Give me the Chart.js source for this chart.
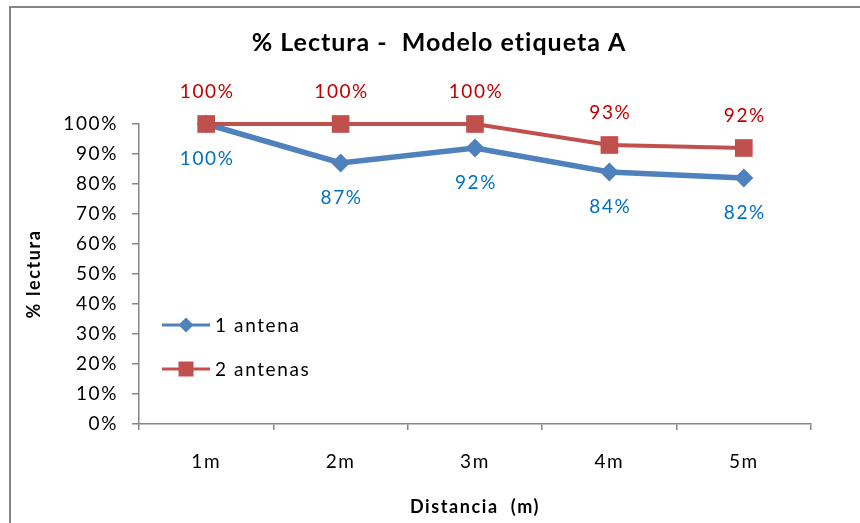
<!DOCTYPE html>
<html>
<head>
<meta charset="utf-8">
<title>% Lectura - Modelo etiqueta A</title>
<script src="https://cdn.jsdelivr.net/npm/chart.js@4.4.1/dist/chart.umd.min.js"></script>
<style>
  html, body { margin: 0; padding: 0; background: #fff; }
  #box { width: 860px; height: 523px; }
</style>
</head>
<body>
<div id="box"><canvas id="chart-lectura" width="860" height="523"></canvas></div>
<script>
const DISTANCIAS   = ["1m", "2m", "3m", "4m", "5m"];
const UNA_ANTENA   = [100, 87, 92, 84, 82];
const DOS_ANTENAS  = [100, 100, 100, 93, 92];
const SERIES       = ["1 antena", "2 antenas"];
const TITULO       = "% Lectura -  Modelo etiqueta A";

const FONT      = "Lato";
const AXIS_GRAY = "#868686";
const AZUL      = "#4F81BD";
const ROJO      = "#C0504D";
const LBL_AZUL  = "#0070C0";
const LBL_ROJO  = "#C00000";

// wide text spacing, like the office-style labels
const spacing = {
  id: "spacing",
  beforeLayout(chart) { chart.ctx.letterSpacing = "1.6px"; },
  beforeDraw(chart)   { chart.ctx.letterSpacing = "1.6px"; },
};

// outer frame + main title
const marco = {
  id: "marco",
  beforeDraw(chart) {
    const ctx = chart.ctx;
    ctx.save();
    ctx.fillStyle = "#fff";
    ctx.fillRect(0, 0, chart.width, chart.height);
    ctx.strokeStyle = AXIS_GRAY;
    ctx.lineWidth = 2;
    ctx.strokeRect(10, 7, chart.width + 20, chart.height + 20);
    ctx.restore();
  },
  afterDraw(chart) {
    const ctx = chart.ctx;
    ctx.save();
    ctx.letterSpacing = "1px";
    ctx.font = `bold 25px ${FONT}`;
    ctx.fillStyle = "#000";
    ctx.textAlign = "center";
    ctx.textBaseline = "middle";
    ctx.fillText(TITULO, 439, 43);
    ctx.restore();
  },
};

// value labels: red above its points, blue below
const etiquetas = {
  id: "etiquetas",
  afterDatasetsDraw(chart) {
    const ctx = chart.ctx;
    ctx.save();
    ctx.font = `19px ${FONT}`;
    ctx.textAlign = "center";
    ctx.textBaseline = "middle";
    chart.data.datasets.forEach((ds, i) => {
      const meta = chart.getDatasetMeta(i);
      meta.data.forEach((pt, j) => {
        ctx.fillStyle = ds.labelColor;
        ctx.fillText(ds.data[j] + "%", pt.x + 1, pt.y + ds.labelOffset);
      });
    });
    ctx.restore();
  },
};

// legend sitting inside the plot area
const leyenda = {
  id: "leyenda",
  afterDraw(chart) {
    const ctx = chart.ctx;
    const area = chart.chartArea;
    const x0 = area.left + 23;
    chart.data.datasets.forEach((ds, i) => {
      const y = area.top + 201 + i * 44;
      ctx.save();
      ctx.strokeStyle = ds.borderColor;
      ctx.lineWidth = 3;
      ctx.beginPath();
      ctx.moveTo(x0, y);
      ctx.lineTo(x0 + 48, y);
      ctx.stroke();
      ctx.fillStyle = ds.backgroundColor;
      const cx = x0 + 24;
      if (ds.pointStyle === "rectRot") {
        ctx.beginPath();
        ctx.moveTo(cx, y - 7.5);
        ctx.lineTo(cx + 7.5, y);
        ctx.lineTo(cx, y + 7.5);
        ctx.lineTo(cx - 7.5, y);
        ctx.closePath();
        ctx.fill();
      } else {
        ctx.fillRect(cx - 7.5, y - 7.5, 15, 15);
      }
      ctx.font = `19px ${FONT}`;
      ctx.fillStyle = "#000";
      ctx.textAlign = "left";
      ctx.textBaseline = "middle";
      ctx.fillText(ds.label, x0 + 53, y + 1);
      ctx.restore();
    });
  },
};

new Chart(document.getElementById("chart-lectura"), {
  type: "line",
  data: {
    labels: DISTANCIAS,
    datasets: [
      {
        label: SERIES[0],
        data: UNA_ANTENA,
        order: 1,
        clip: false,
        borderColor: AZUL,
        backgroundColor: AZUL,
        borderWidth: 5.5,
        pointStyle: "rectRot",
        pointRadius: 9.5,
        pointBorderWidth: 0,
        tension: 0,
        labelColor: LBL_AZUL,
        labelOffset: 35,
      },
      {
        label: SERIES[1],
        data: DOS_ANTENAS,
        order: 0,
        clip: false,
        borderColor: ROJO,
        backgroundColor: ROJO,
        borderWidth: 4,
        pointStyle: "rect",
        pointRadius: 12.5,
        pointBorderWidth: 0,
        tension: 0,
        labelColor: LBL_ROJO,
        labelOffset: -32,
      },
    ],
  },
  options: {
    responsive: false,
    animation: false,
    devicePixelRatio: 1,
    layout: { padding: { top: 124, left: 10, right: 49, bottom: 0 } },
    plugins: {
      legend: { display: false },
      title: { display: false },
      tooltip: { enabled: false },
    },
    scales: {
      x: {
        offset: true,
        grid: { display: true, offset: true, drawOnChartArea: false, tickLength: 6, color: AXIS_GRAY, lineWidth: 1.5 },
        border: { display: true, color: AXIS_GRAY, width: 1.5 },
        ticks: { color: "#000", font: { family: FONT, size: 19 }, padding: 20, maxRotation: 0 },
        title: { display: true, text: "Distancia  (m)", color: "#000", font: { family: FONT, size: 18, weight: "bold" }, padding: { top: 0, bottom: 5 } },
        afterFit(scale) { scale.height = 99; },
      },
      y: {
        min: 0,
        max: 100,
        grid: { display: true, drawOnChartArea: false, tickLength: 7, color: AXIS_GRAY, lineWidth: 1.5 },
        border: { display: true, color: AXIS_GRAY, width: 1.5 },
        ticks: { stepSize: 10, color: "#000", font: { family: FONT, size: 19 }, padding: 14, callback: v => v + "%" },
        title: { display: true, text: "% lectura", color: "#000", font: { family: FONT, size: 18, weight: "bold" }, padding: { top: 13, bottom: 0 } },
        afterFit(scale) { scale.width = 129; },
      },
    },
  },
  plugins: [spacing, marco, etiquetas, leyenda],
});
</script>
</body>
</html>
